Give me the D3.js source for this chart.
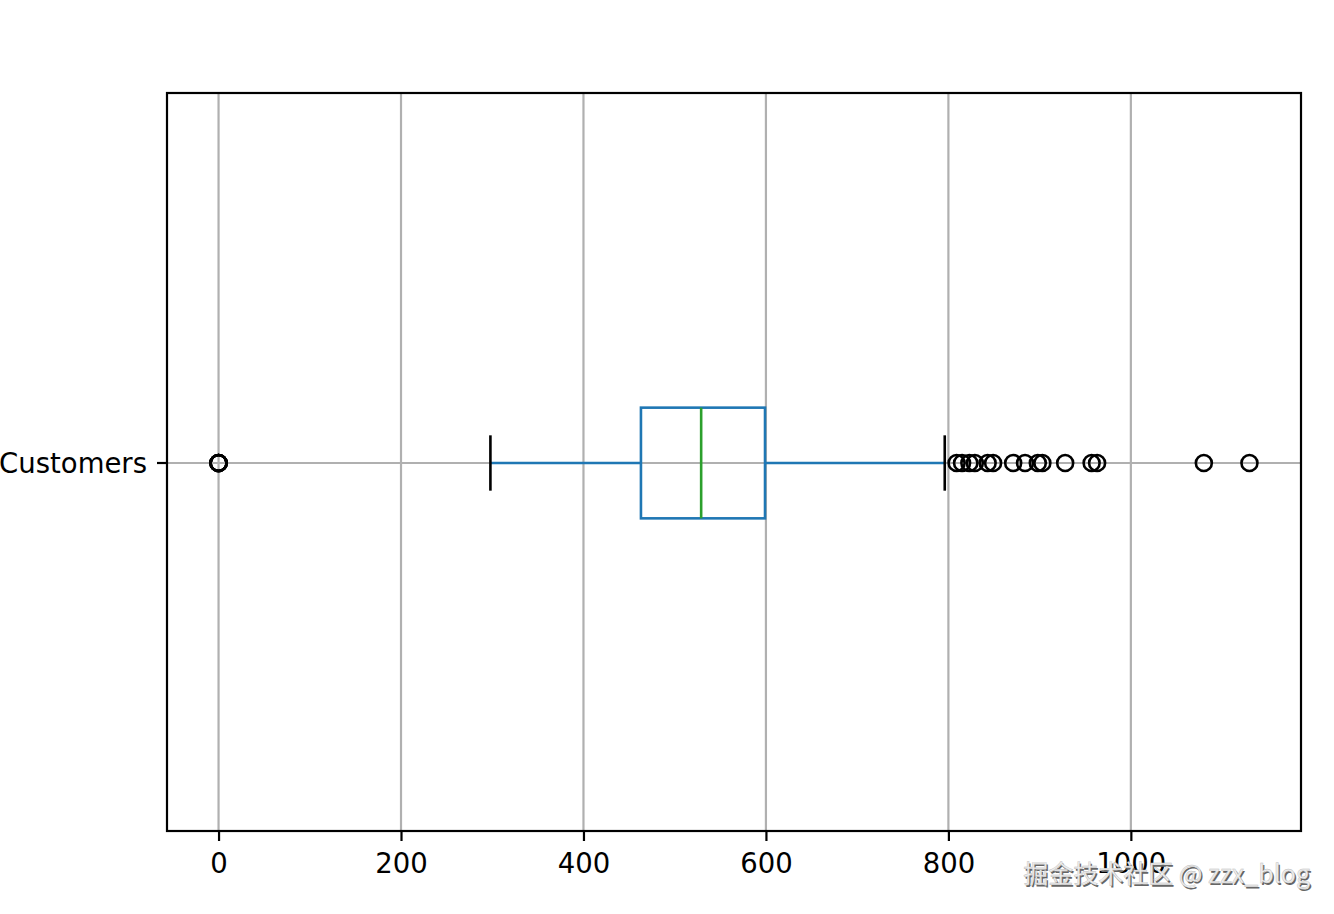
<!DOCTYPE html>
<html>
<head>
<meta charset="utf-8">
<script src="https://cdn.jsdelivr.net/npm/d3@7"></script>
<style>
  html, body { margin: 0; padding: 0; background: #fff; }
  svg { display: block; }
</style>
</head>
<body>
<svg id="chart" width="1334" height="914"></svg>
<script>
// ---- data ----
const categories = ["Customers"];
const whiskerLow = [298];
const q1 = [463];
const median = [529];
const q3 = [599];
const whiskerHigh = [796];
const fliers = [[0, 0, 0, 0, 0, 0, 809, 815, 823, 829, 843, 849, 871, 884, 898, 903, 928, 957, 963, 1080, 1130]];
const xTicks = [0, 200, 400, 600, 800, 1000];
const watermark = "掘金技术社区 @ zzx_blog";

// ---- layout ----
const svg = d3.select("#chart");
const L = 167, R = 1301, T = 93, B = 831;
const allVals = fliers[0].concat(whiskerLow, whiskerHigh);
const dmin = d3.min(allVals), dmax = d3.max(allVals);
const pad = (dmax - dmin) * 0.05;
const x = d3.scaleLinear().domain([dmin - pad, dmax + pad]).range([L, R]);
const y = d3.scaleLinear().domain([0.5, 1.5]).range([B + 1, T + 1]);
const font = "DejaVu Sans, sans-serif";
const fs = 27.5;

// grid
const g = svg.append("g");
g.selectAll("line.vgrid").data(xTicks).join("line")
  .attr("x1", d => x(d)).attr("x2", d => x(d))
  .attr("y1", T).attr("y2", B)
  .attr("stroke", "#b0b0b0").attr("stroke-width", 2.2);
g.selectAll("line.hgrid").data(categories).join("line")
  .attr("x1", L).attr("x2", R)
  .attr("y1", (d, i) => y(i + 1)).attr("y2", (d, i) => y(i + 1))
  .attr("stroke", "#b0b0b0").attr("stroke-width", 2.2);

// boxes
const boxHalf = 0.075, capHalf = 0.0375;
const blue = "#1f77b4", lw = 2.6;
categories.forEach((c, i) => {
  const p = i + 1;
  const bg = svg.append("g");
  // whiskers
  bg.append("line").attr("x1", x(whiskerLow[i])).attr("x2", x(q1[i]))
    .attr("y1", y(p)).attr("y2", y(p)).attr("stroke", blue).attr("stroke-width", lw);
  bg.append("line").attr("x1", x(q3[i])).attr("x2", x(whiskerHigh[i]))
    .attr("y1", y(p)).attr("y2", y(p)).attr("stroke", blue).attr("stroke-width", lw);
  // caps
  [whiskerLow[i], whiskerHigh[i]].forEach(v => {
    bg.append("line").attr("x1", x(v)).attr("x2", x(v))
      .attr("y1", y(p - capHalf)).attr("y2", y(p + capHalf))
      .attr("stroke", "#000").attr("stroke-width", lw);
  });
  // box
  bg.append("rect").attr("x", x(q1[i])).attr("width", x(q3[i]) - x(q1[i]))
    .attr("y", y(p + boxHalf)).attr("height", y(p - boxHalf) - y(p + boxHalf))
    .attr("fill", "none").attr("stroke", blue).attr("stroke-width", lw);
  // median
  bg.append("line").attr("x1", x(median[i])).attr("x2", x(median[i]))
    .attr("y1", y(p - boxHalf)).attr("y2", y(p + boxHalf))
    .attr("stroke", "#2ca02c").attr("stroke-width", lw);
  // fliers
  bg.selectAll("circle").data(fliers[i]).join("circle")
    .attr("cx", d => x(d)).attr("cy", y(p)).attr("r", 8)
    .attr("fill", "none").attr("stroke", "#000").attr("stroke-width", 2.6);
});

// frame
svg.append("rect").attr("x", L).attr("y", T).attr("width", R - L).attr("height", B - T)
  .attr("fill", "none").attr("stroke", "#000").attr("stroke-width", 2.2);

// x axis
const xa = svg.append("g").attr("transform", `translate(0,${B})`)
  .call(d3.axisBottom(x).tickValues(xTicks).tickSize(10).tickPadding(12).tickFormat(d3.format("d")));
xa.select(".domain").remove();
xa.selectAll(".tick line").attr("stroke", "#000").attr("stroke-width", 2.2);
xa.selectAll(".tick text").attr("fill", "#000").style("font-family", font).style("font-size", fs + "px");

// y axis
const yb = d3.scaleOrdinal().domain(categories).range(categories.map((c, i) => y(i + 1)));
const ya = svg.append("g").attr("transform", `translate(${L},0)`);
ya.selectAll("g").data(categories).join("g")
  .attr("transform", d => `translate(0,${yb(d)})`)
  .each(function(d) {
    const t = d3.select(this);
    t.append("line").attr("x1", -10).attr("x2", 0).attr("stroke", "#000").attr("stroke-width", 2.2);
    t.append("text").attr("x", -20).attr("dy", "0.35em").attr("text-anchor", "end")
      .style("font-family", font).style("font-size", fs + "px").attr("fill", "#000").text(d);
  });

// watermark
const wm = svg.append("g").attr("transform", "translate(1310,883)");
wm.append("text").attr("x", 1.5).attr("y", 1.5).attr("text-anchor", "end")
  .style("font-family", "Noto Sans CJK SC, sans-serif").style("font-size", "25px")
  .attr("fill", "#666").text(watermark);
wm.append("text").attr("text-anchor", "end")
  .style("font-family", "Noto Sans CJK SC, sans-serif").style("font-size", "25px")
  .attr("fill", "#eeeeee").attr("stroke", "#bbb").attr("stroke-width", 0.4).text(watermark);
</script>
</body>
</html>
